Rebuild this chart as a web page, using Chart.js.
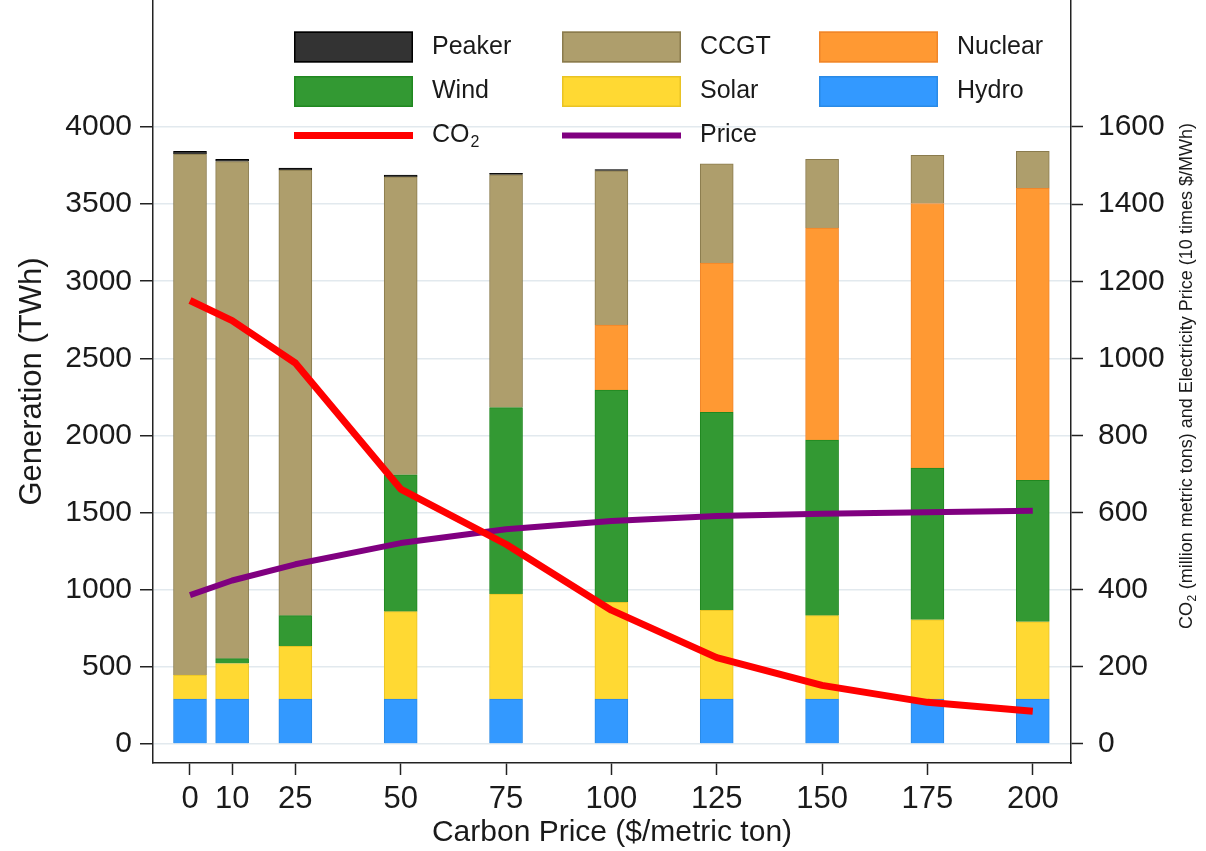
<!DOCTYPE html>
<html>
<head>
<meta charset="utf-8">
<script src="https://cdn.jsdelivr.net/npm/chart.js@4/dist/chart.umd.min.js"></script>
<style>
  html, body { margin: 0; padding: 0; background: #ffffff; }
  #wrap { width: 1206px; height: 851px; position: relative; }
</style>
</head>
<body>
<div id="wrap"><canvas id="chart"></canvas></div>
<script>
// Carbon price scenarios ($/metric ton)
const carbonPrice = [0, 10, 25, 50, 75, 100, 125, 150, 175, 200];

// Generation by technology (TWh), stacked from the bottom up
const hydro   = [292, 292, 292, 292, 292, 292, 292, 292, 292, 292];
const solar   = [155, 230, 341, 566, 680, 627, 574, 540, 513, 500];
const wind    = [0, 31, 199, 887, 1209, 1376, 1284, 1138, 984, 918];
const nuclear = [0, 0, 0, 0, 0, 421, 968, 1375, 1715, 1892];
const ccgt    = [3378, 3223, 2888, 1932, 1509, 1000, 643, 445, 313, 241];
const peaker  = [18, 14, 14, 12, 10, 8, 0, 0, 0, 0];

// CO2 (million metric tons) and electricity price (10 x $/MWh)
const co2   = [1150, 1098, 988, 661, 518, 347, 224, 152, 108, 85];
const price = [386, 424, 466, 521, 557, 578, 591, 597, 601, 605];

// Axis tick labels
const genTicks   = [0, 500, 1000, 1500, 2000, 2500, 3000, 3500, 4000];
const rightTicks = [0, 200, 400, 600, 800, 1000, 1200, 1400, 1600];
const priceTicks = carbonPrice;

const FONT = '"Liberation Sans", Arial, Helvetica, sans-serif';
const INK = '#1a1a1a';
const FRAME = '#222222';
const GRID = '#e2e9ee';

const pts = (vals) => carbonPrice.map((x, i) => ({ x: x, y: vals[i] }));

function barSet(label, vals, fill, edge) {
  return {
    type: 'bar', label: label, data: pts(vals), yAxisID: 'y', stack: 'gen',
    backgroundColor: fill, borderColor: edge, borderWidth: 1,
    barThickness: 33, order: 2
  };
}
function lineSet(label, vals, color, width, order) {
  return {
    type: 'line', label: label, data: pts(vals), yAxisID: 'y1',
    borderColor: color, backgroundColor: color, borderWidth: width,
    pointRadius: 0, tension: 0, borderCapStyle: 'butt', borderJoinStyle: 'round',
    fill: false, order: order
  };
}

const datasets = [
  lineSet('CO2', co2, '#ff0000', 7, 0),
  lineSet('Price', price, '#800080', 6, 1),
  barSet('Hydro', hydro, '#3399ff', '#2a8ae6'),
  barSet('Solar', solar, '#ffd933', '#e9c324'),
  barSet('Wind', wind, '#339933', '#208820'),
  barSet('Nuclear', nuclear, '#ff9933', '#f0862a'),
  barSet('CCGT', ccgt, '#ae9e6c', '#8a7b4d'),
  barSet('Peaker', peaker, '#333333', '#000000')
];

// Three-column legend drawn inside the top of the plot region
const legendRows = [['Peaker', 'CCGT', 'Nuclear'], ['Wind', 'Solar', 'Hydro'], ['CO2', 'Price']];

function drawLabel(ctx, text, x, y, size) {
  ctx.font = size + 'px ' + FONT;
  ctx.textAlign = 'left';
  ctx.textBaseline = 'middle';
  ctx.fillStyle = INK;
  if (text === 'CO2') {
    ctx.fillText('CO', x, y);
    const w = ctx.measureText('CO').width;
    ctx.font = Math.round(size * 0.64) + 'px ' + FONT;
    ctx.fillText('2', x + w + 1, y + size * 0.3);
  } else {
    ctx.fillText(text, x, y);
  }
}

const gridLegend = {
  id: 'gridLegend',
  afterDraw(chart) {
    const ctx = chart.ctx;
    const byLabel = {};
    chart.data.datasets.forEach(d => { byLabel[d.label] = d; });
    const colX = [294, 562, 819];
    const rowY = [47, 91.5, 135.5];
    const swW = 119, swH = 31, textGap = 19;
    ctx.save();
    legendRows.forEach((row, r) => {
      row.forEach((label, c) => {
        const d = byLabel[label];
        const x = colX[c], y = rowY[r];
        if (d.type === 'line') {
          ctx.strokeStyle = d.borderColor;
          ctx.lineWidth = d.borderWidth;
          ctx.lineCap = 'butt';
          ctx.beginPath();
          ctx.moveTo(x, y);
          ctx.lineTo(x + swW, y);
          ctx.stroke();
        } else {
          ctx.fillStyle = d.backgroundColor;
          ctx.fillRect(x, y - swH / 2, swW, swH);
          ctx.strokeStyle = d.borderColor;
          ctx.lineWidth = 1.5;
          ctx.strokeRect(x + 0.75, y - swH / 2 + 0.75, swW - 1.5, swH - 1.5);
        }
        drawLabel(ctx, label, x + swW + textGap, y, 25);
      });
    });

    // Right-hand axis title, reading bottom to top
    const cx = 1187, cy = 376, size = 18;
    ctx.translate(cx, cy);
    ctx.rotate(-Math.PI / 2);
    ctx.textBaseline = 'middle';
    ctx.fillStyle = INK;
    const big = size + 'px ' + FONT, small = Math.round(size * 0.64) + 'px ' + FONT;
    const rest = ' (million metric tons) and Electricity Price (10 times $/MWh)';
    ctx.font = big;
    const wCO = ctx.measureText('CO').width;
    const wRest = ctx.measureText(rest).width;
    ctx.font = small;
    const w2 = ctx.measureText('2').width;
    const total = wCO + w2 + 1 + wRest;
    let px = -total / 2;
    ctx.textAlign = 'left';
    ctx.font = big;
    ctx.fillText('CO', px, 0);
    px += wCO;
    ctx.font = small;
    ctx.fillText('2', px + 0.5, size * 0.3);
    px += w2 + 1;
    ctx.font = big;
    ctx.fillText(rest, px, 0);
    ctx.restore();
  }
};

const fixedTicks = (list) => (scale) => { scale.ticks = list.map(v => ({ value: v })); };
const noPad = (s) => { s.paddingTop = 0; s.paddingBottom = 0; s.paddingLeft = 0; s.paddingRight = 0; };

new Chart(document.getElementById('chart'), {
  data: { datasets: datasets },
  plugins: [gridLegend],
  options: {
    responsive: true,
    maintainAspectRatio: false,
    animation: false,
    layout: { padding: 0 },
    plugins: { legend: { display: false }, tooltip: { enabled: false } },
    scales: {
      x: {
        type: 'linear', position: 'bottom', offset: false,
        min: -8.78, max: 209.07,
        afterBuildTicks: fixedTicks(priceTicks),
        afterFit: (s) => { s.height = 88; noPad(s); },
        grid: { display: true, offset: false, drawOnChartArea: false, drawTicks: true, tickLength: 12, tickColor: FRAME, tickWidth: 1.5 },
        border: { display: true, color: FRAME, width: 1.5 },
        ticks: { color: INK, font: { family: FONT, size: 31 }, padding: 6, maxRotation: 0, autoSkip: false, callback: (v) => String(v) },
        title: { display: true, text: 'Carbon Price ($/metric ton)', color: INK, font: { family: FONT, size: 30, lineHeight: 1 }, padding: { top: 0, bottom: 3 } }
      },
      y: {
        type: 'linear', position: 'left', stacked: true,
        min: -123.2, max: 4823.3,
        afterBuildTicks: fixedTicks(genTicks),
        afterFit: (s) => { s.width = 153; noPad(s); },
        grid: { color: GRID, lineWidth: 1.5, drawTicks: true, tickLength: 13, tickColor: FRAME, tickWidth: 1.5 },
        border: { display: true, color: FRAME, width: 1.5 },
        ticks: { color: INK, font: { family: FONT, size: 30 }, padding: 8, autoSkip: false, callback: (v) => String(v) },
        title: { display: true, text: 'Generation (TWh)', color: INK, font: { family: FONT, size: 31, lineHeight: 1 }, padding: { top: 17, bottom: 0 } }
      },
      y1: {
        type: 'linear', position: 'right',
        min: -49.28, max: 1929.3,
        afterBuildTicks: fixedTicks(rightTicks),
        afterFit: (s) => { s.width = 135; noPad(s); },
        grid: { drawOnChartArea: false, drawTicks: true, tickLength: 12, tickColor: FRAME, tickWidth: 1.5 },
        border: { display: true, color: FRAME, width: 1.5 },
        ticks: { color: INK, font: { family: FONT, size: 30 }, padding: 15, autoSkip: false, callback: (v) => String(v) },
        title: { display: false }
      }
    }
  }
});
</script>
</body>
</html>
